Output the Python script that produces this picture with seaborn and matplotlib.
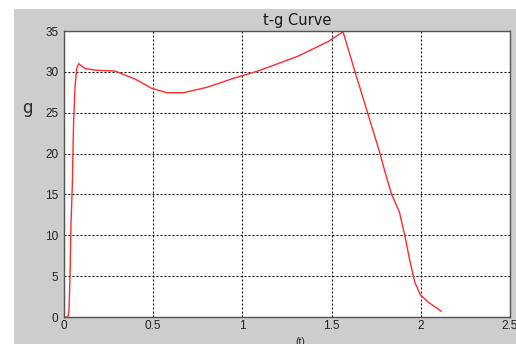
import matplotlib

matplotlib.use('Agg')

import matplotlib.pyplot as plt
import numpy as np
import pandas as pd
import seaborn as sns
from matplotlib.patches import Rectangle

# t-g curve
time_s = [0.0, 0.020, 0.024, 0.028, 0.034, 0.039, 0.047, 0.050, 0.054, 0.062,
          0.071, 0.082, 0.118, 0.18, 0.286, 0.40, 0.49, 0.576, 0.669, 0.80,
          0.949, 1.087, 1.31, 1.48, 1.564, 1.63, 1.70, 1.77, 1.80, 1.835,
          1.88, 1.91, 1.94, 1.966, 1.997, 2.04, 2.115]
g_value = [0.0, 0.0, 0.2, 0.85, 5.3, 11.3, 16.3, 20.1, 23.9, 28.2,
           30.4, 31.0, 30.4, 30.2, 30.1, 29.1, 28.0, 27.45, 27.45, 28.1,
           29.2, 30.1, 31.9, 33.7, 34.9, 30.1, 25.1, 20.1, 17.7, 15.1,
           12.85, 10.0, 6.73, 4.28, 2.73, 1.84, 0.70]

x_ticks = [0, 0.5, 1, 1.5, 2, 2.5]
x_tick_labels = ['0', '0.5', '1', '1.5', '2', '2.5']
y_ticks = [0, 5, 10, 15, 20, 25, 30, 35]

sns.set_theme(style='white')
plt.rcParams['font.family'] = ['Liberation Sans', 'DejaVu Sans']

df = pd.DataFrame({'t': time_s, 'g': g_value})

fig = plt.figure(figsize=(5.16, 3.44), dpi=100)
fig.patch.set_facecolor('white')
# grey window background of the original screenshot
bg = Rectangle((14 / 516, 0), 1, (344 - 9) / 344, transform=fig.transFigure,
               facecolor='#cdcdcd', edgecolor='none', zorder=-5)
fig.add_artist(bg)

ax = fig.add_axes([64 / 516, 27 / 344, 446 / 516, 286 / 344])
ax.set_zorder(5)
ax.set_facecolor('white')

sns.lineplot(data=df, x='t', y='g', ax=ax, color='#ff2a2a', linewidth=1.0,
             sort=False, estimator=None)

ax.set_xlim(0, 2.5)
ax.set_ylim(0, 35)
ax.set_xticks(x_ticks)
ax.set_xticklabels(x_tick_labels)
ax.set_yticks(y_ticks)

ax.grid(True, color='black', linestyle=(0, (1.8, 1.8)), linewidth=0.8)
ax.set_axisbelow(True)

for side in ['left', 'bottom', 'right', 'top']:
    ax.spines[side].set_visible(True)
    ax.spines[side].set_color('#555555')
    ax.spines[side].set_linewidth(1.0)

ax.tick_params(axis='x', direction='in', length=3, color='#333333',
               labelsize=8.5, labelcolor='#222222', pad=2)
ax.tick_params(axis='y', direction='out', length=3, color='#333333',
               labelsize=8.5, labelcolor='#222222', pad=1)

ax.set_xlabel('(t)', fontsize=7.5, color='#222222')
ax.xaxis.set_label_coords(0.529, -0.07)
ax.set_ylabel('g', fontsize=12, rotation=0, color='#2a2a35',
              family=['DejaVu Sans'])
ax.yaxis.set_label_coords(-0.083, 0.70)

ax.text(0.522, 1.01, 't-g Curve', transform=ax.transAxes, ha='center',
        va='bottom', fontsize=10.5, color='#1a1a1a', family=['DejaVu Sans'])

plt.savefig('out.png', dpi=100)
